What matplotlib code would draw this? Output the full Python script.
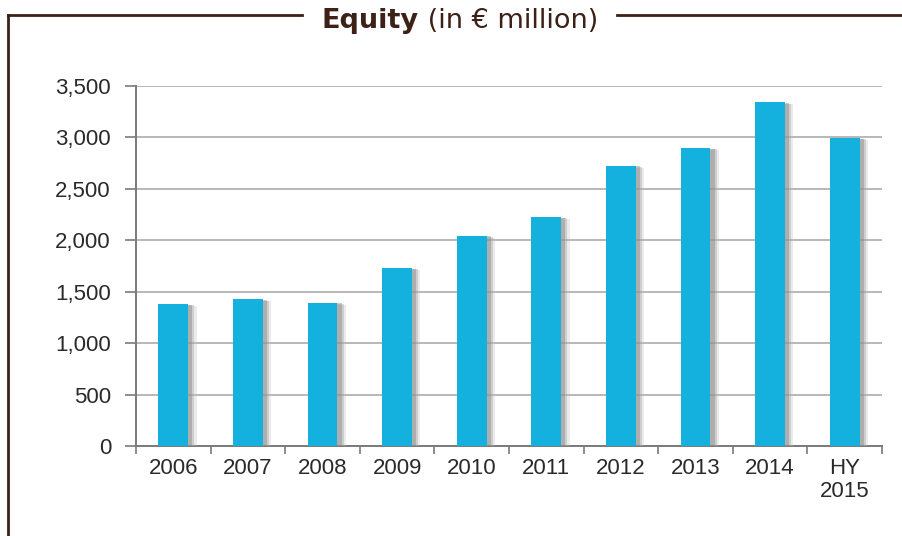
import matplotlib
matplotlib.use("Agg")
import matplotlib.pyplot as plt
import matplotlib.patheffects as pe
from matplotlib.lines import Line2D
from matplotlib.ticker import FuncFormatter, FixedLocator
import numpy as np

# Equity per year, in EUR million
categories = ["2006", "2007", "2008", "2009", "2010", "2011", "2012", "2013", "2014", "HY\n2015"]
equity = [1380, 1428, 1395, 1732, 2044, 2227, 2726, 2899, 3343, 2996]
y_ticks = [0, 500, 1000, 1500, 2000, 2500, 3000, 3500]

W, H = 903, 536
fig = plt.figure(figsize=(W / 100, H / 100), dpi=100)
fig.patch.set_facecolor("white")

ax = fig.add_axes([136 / W, 1 - 446 / H, (882 - 136) / W, (446 - 86) / H])

x = np.arange(len(categories))
bar_color = "#14b1df"
shadow = [
    pe.SimplePatchShadow(offset=(6, -1.5), shadow_rgbFace="#c0c0c0", alpha=0.3),
    pe.SimplePatchShadow(offset=(4.5, -1), shadow_rgbFace="#9a9a9a", alpha=0.35),
    pe.SimplePatchShadow(offset=(3, -0.5), shadow_rgbFace="#808080", alpha=0.4),
    pe.Normal(),
]
bars = ax.bar(x, equity, width=0.40, color=bar_color, zorder=3)
for b in bars:
    b.set_path_effects(shadow)

ax.set_xlim(-0.5, len(categories) - 0.5)
ax.set_ylim(0, 3500)

# grid lines
ax.yaxis.set_major_locator(FixedLocator(y_ticks))
ax.grid(axis="y", color="#b8b8b8", linewidth=1.4, zorder=0)
ax.set_axisbelow(True)

ax.yaxis.set_major_formatter(FuncFormatter(lambda v, p: f"{int(v):,}"))
tick_font = dict(family="Liberation Sans", size=16, color="#2a2a2a")
for lab in ax.get_yticklabels():
    lab.set(**tick_font)

# x ticks at category boundaries, labels centered on bars
ax.set_xticks(np.arange(-0.5, len(categories), 1.0))
ax.set_xticklabels([])
ax.set_xticks(x, minor=True)
ax.set_xticklabels(categories, minor=True, **tick_font, linespacing=1.1, va="top")
ax.tick_params(axis="x", which="minor", length=0, pad=9)
ax.tick_params(axis="x", which="major", length=6, width=1.2, color="#7a7a7a", direction="out")
ax.tick_params(axis="y", length=8, width=1.2, color="#7a7a7a", pad=10)

for s in ["top", "right"]:
    ax.spines[s].set_visible(False)
for s in ["left", "bottom"]:
    ax.spines[s].set_color("#7a7a7a")
    ax.spines[s].set_linewidth(1.4)

# frame around the chart with the title set into the top edge
frame_color = "#3d2117"
yl = 1 - 14.5 / H
fig.add_artist(Line2D([8 / W, 8 / W], [yl, 0], color=frame_color, lw=2, transform=fig.transFigure))
fig.add_artist(Line2D([8 / W, 302 / W], [yl, yl], color=frame_color, lw=2, transform=fig.transFigure))
fig.add_artist(Line2D([617 / W, 1.0], [yl, yl], color=frame_color, lw=2, transform=fig.transFigure))

t1 = fig.text(322 / W, 1 - 21 / H, "Equity", family="DejaVu Sans", weight="bold",
              size=19.5, color=frame_color, ha="left", va="center")
fig.canvas.draw()
bb = t1.get_window_extent()
fig.text(bb.x1 / W, 1 - 21 / H, " (in € million)", family="DejaVu Sans",
         size=19.5, color=frame_color, ha="left", va="center")

fig.savefig("out.png", dpi=100, facecolor="white")
